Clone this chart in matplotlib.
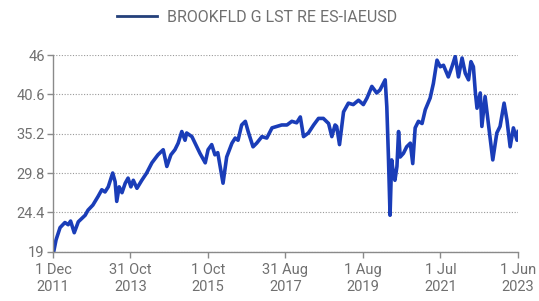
import pandas as pd
import matplotlib
matplotlib.use("Agg")
import matplotlib.pyplot as plt
from matplotlib.lines import Line2D

# series (time as decimal year, price)
years = [2011.94, 2011.99, 2012.09, 2012.21, 2012.29, 2012.35, 2012.44, 2012.54, 2012.71, 2012.78,
         2012.90, 2013.03, 2013.12, 2013.20, 2013.28, 2013.39, 2013.45, 2013.49, 2013.55, 2013.62,
         2013.70, 2013.77, 2013.84, 2013.90, 2013.99, 2014.11, 2014.23, 2014.36, 2014.51, 2014.64,
         2014.73, 2014.83, 2014.93, 2015.01, 2015.10, 2015.18, 2015.22, 2015.35, 2015.47, 2015.55,
         2015.68, 2015.75, 2015.84, 2015.92, 2015.99, 2016.09, 2016.12, 2016.21, 2016.34, 2016.42,
         2016.49, 2016.58, 2016.67, 2016.74, 2016.86, 2016.95, 2017.08, 2017.20, 2017.33, 2017.45,
         2017.57, 2017.70, 2017.82, 2017.94, 2018.03, 2018.11, 2018.23, 2018.36, 2018.48, 2018.60,
         2018.73, 2018.81, 2018.89, 2018.93, 2019.00, 2019.10, 2019.22, 2019.34, 2019.47, 2019.59,
         2019.68, 2019.80, 2019.92, 2020.00, 2020.13, 2020.17, 2020.21, 2020.25, 2020.29, 2020.33,
         2020.37, 2020.42, 2020.46, 2020.50, 2020.58, 2020.66, 2020.75, 2020.81, 2020.87, 2020.95,
         2021.04, 2021.12, 2021.24, 2021.32, 2021.41, 2021.49, 2021.57, 2021.69, 2021.78, 2021.86,
         2021.94, 2022.03, 2022.11, 2022.19, 2022.25, 2022.31, 2022.36, 2022.40, 2022.48, 2022.52,
         2022.60, 2022.69, 2022.79, 2022.89, 2022.97, 2023.07, 2023.14, 2023.22, 2023.30, 2023.39,
         2023.42]
prices = [19.2, 20.6, 22.3, 23.0, 22.7, 23.2, 21.6, 23.1, 24.0, 24.7,
          25.4, 26.6, 27.5, 27.2, 27.9, 29.8, 28.6, 25.9, 27.9, 27.1,
          28.4, 29.1, 27.9, 28.8, 27.7, 28.8, 29.8, 31.2, 32.3, 33.0,
          30.7, 32.3, 33.0, 33.9, 35.5, 34.3, 35.3, 34.8, 33.4, 32.5,
          31.2, 33.0, 33.7, 32.3, 32.6, 29.3, 28.4, 32.0, 33.9, 34.6,
          34.3, 36.4, 36.9, 35.5, 33.4, 33.9, 34.8, 34.6, 36.0, 36.2,
          36.4, 36.4, 36.9, 36.7, 37.5, 34.8, 35.3, 36.4, 37.3, 37.3,
          36.6, 34.8, 36.4, 36.2, 33.7, 38.2, 39.4, 39.2, 39.8, 39.2,
          40.1, 41.7, 40.8, 41.2, 42.6, 38.9, 32.0, 24.0, 31.6, 29.8,
          28.8, 30.7, 35.5, 32.0, 32.5, 33.4, 33.9, 31.1, 36.0, 36.9,
          36.6, 38.5, 40.1, 42.1, 45.3, 44.4, 44.6, 43.0, 44.4, 45.8,
          43.0, 45.6, 43.5, 42.6, 45.1, 44.4, 40.8, 38.7, 40.8, 36.2,
          40.3, 36.2, 31.6, 35.3, 36.2, 39.4, 37.1, 33.4, 36.0, 34.3,
          35.5]

series_name = "BROOKFLD G LST RE ES-IAEUSD"
y_ticks = [19, 24.4, 29.8, 35.2, 40.6, 46]
x_ticks = ["2011-12-01", "2013-10-31", "2015-10-01", "2017-08-31",
           "2019-08-01", "2021-07-01", "2023-06-01"]
x_labels = ["1 Dec\n2011", "31 Oct\n2013", "1 Oct\n2015", "31 Aug\n2017",
            "1 Aug\n2019", "1 Jul\n2021", "1 Jun\n2023"]


def to_date(y):
    year = int(y)
    start = pd.Timestamp(year=year, month=1, day=1)
    end = pd.Timestamp(year=year + 1, month=1, day=1)
    return start + (end - start) * (y - year)


dates = [to_date(y) for y in years]

plt.rcParams['font.family'] = ['Roboto', 'DejaVu Sans']
grey = "#8a8a8a"
text_grey = "#707070"
line_color = "#1a3db8"

fig = plt.figure(figsize=(5.39, 3.01), dpi=100)
ax = fig.add_axes([0.0983, 0.164, 0.8627, 0.653])

ax.plot(dates, prices, color=line_color, linewidth=2.6, solid_joinstyle="round")

ax.set_xlim(pd.Timestamp(x_ticks[0]), pd.Timestamp(x_ticks[-1]))
ax.set_ylim(y_ticks[0], y_ticks[-1])
ax.set_yticks(y_ticks)
ax.set_yticklabels([f"{v:g}" for v in y_ticks])
ax.set_xticks([pd.Timestamp(d) for d in x_ticks])
ax.set_xticklabels(x_labels, linespacing=1.3)

ax.grid(axis='y', linestyle=(0, (1, 1.5)), color="#9a9a9a", linewidth=0.8)
ax.set_axisbelow(True)
for s in ["top", "right"]:
    ax.spines[s].set_visible(False)
for s in ["left", "bottom"]:
    ax.spines[s].set_color(grey)
    ax.spines[s].set_linewidth(1.0)
ax.tick_params(axis='both', colors=grey, labelcolor=text_grey, labelsize=10.5,
               length=4, width=1.0)
ax.tick_params(axis='x', pad=4)
ax.tick_params(axis='y', pad=2)

handle = Line2D([], [], color="#24407a", linewidth=2.0)
fig.legend([handle], [series_name], loc="upper center", bbox_to_anchor=(0.477, 1.015),
           frameon=False, fontsize=11.5, labelcolor=text_grey, handlelength=2.5,
           handletextpad=0.6)

fig.savefig("out.png", dpi=100, facecolor="white")
